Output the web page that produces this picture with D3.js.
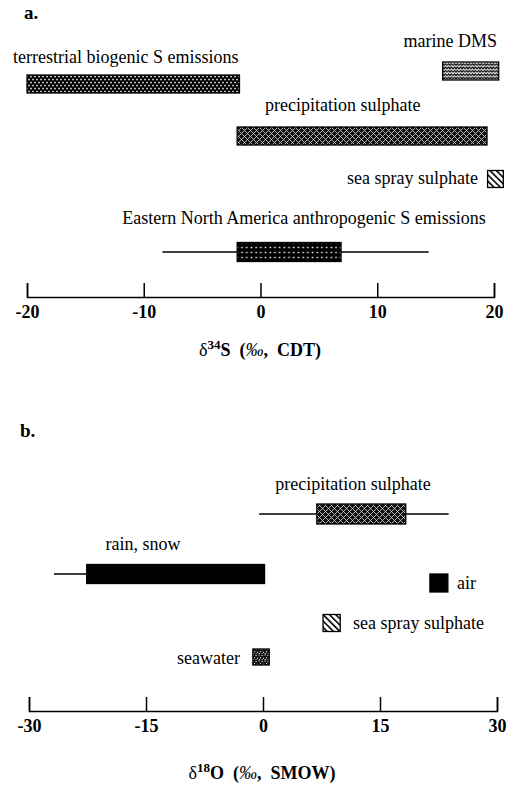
<!DOCTYPE html>
<html>
<head>
<meta charset="utf-8">
<script src="https://cdn.jsdelivr.net/npm/d3@7"></script>
<style>
  html, body { margin: 0; padding: 0; background: #fff; }
  svg { display: block; }
  text { font-family: "Liberation Serif", "Times New Roman", serif; fill: #000; }
</style>
</head>
<body>
<div id="chart"></div>
<script>
// ---- Panel a: sulphur isotope ranges (δ34S, ‰ CDT) ----
const sulphurSources = [
  "terrestrial biogenic S emissions",
  "marine DMS",
  "precipitation sulphate",
  "sea spray sulphate",
  "Eastern North America anthropogenic S emissions"
];
const sulphurLow = [-20, 15.6, -2, 19.45, -2];
const sulphurHigh = [-1.8, 20.4, 19.4, 20.8, 6.9];
const sulphurWhiskerLow = [null, null, null, null, -8.4];
const sulphurWhiskerHigh = [null, null, null, null, 14.4];
const sulphurTicks = [-20, -10, 0, 10, 20];

// ---- Panel b: oxygen isotope ranges (δ18O, ‰ SMOW) ----
const oxygenSources = [
  "precipitation sulphate",
  "rain, snow",
  "air",
  "sea spray sulphate",
  "seawater"
];
const oxygenLow = [6.9, -22.6, 21.4, 7.7, -1.3];
const oxygenHigh = [18.3, 0.2, 23.7, 9.9, 0.8];
const oxygenWhiskerLow = [-0.5, -26.8, null, null, null];
const oxygenWhiskerHigh = [23.8, null, null, null, null];
const oxygenTicks = [-30, -15, 0, 15, 30];

const W = 518, H = 789;
const svg = d3.select("#chart").append("svg").attr("width", W).attr("height", H);

// ---- fill patterns ----
const defs = svg.append("defs");

// staggered white dots on black
const pDots = defs.append("pattern").attr("id", "dots").attr("patternUnits", "userSpaceOnUse")
  .attr("width", 8).attr("height", 6);
pDots.append("rect").attr("width", 8).attr("height", 6).attr("fill", "#000");
[[1, 1.5], [5, 1.5], [3, 4.5], [7, 4.5]].forEach(([cx, cy]) =>
  pDots.append("rect").attr("x", cx - 0.7).attr("y", cy - 0.7).attr("width", 1.5).attr("height", 1.5).attr("fill", "#fff"));

// aligned white dots on black
const pGrid = defs.append("pattern").attr("id", "grid").attr("patternUnits", "userSpaceOnUse")
  .attr("width", 4.7).attr("height", 5);
pGrid.append("rect").attr("width", 4.7).attr("height", 5).attr("fill", "#000");
pGrid.append("rect").attr("x", 1.6).attr("y", 1.8).attr("width", 1.5).attr("height", 1.4).attr("fill", "#fff");

// fine speckle on black
const pSpeckle = defs.append("pattern").attr("id", "speckle").attr("patternUnits", "userSpaceOnUse")
  .attr("width", 6).attr("height", 6);
pSpeckle.append("rect").attr("width", 6).attr("height", 6).attr("fill", "#111");
[[0.5, 0.5], [3.5, 1], [2, 3.2], [5, 3.8], [0.8, 5], [3.6, 5.3]].forEach(([x, y]) =>
  pSpeckle.append("rect").attr("x", x).attr("y", y).attr("width", 1.1).attr("height", 1).attr("fill", "#fff"));

// white zigzag on black
const pZig = defs.append("pattern").attr("id", "zigzag").attr("patternUnits", "userSpaceOnUse")
  .attr("width", 6).attr("height", 3.4);
pZig.append("rect").attr("width", 6).attr("height", 3.4).attr("fill", "#1a1a1a");
pZig.append("path").attr("d", "M0,2.4 L1.5,0.9 L3,2.4 L4.5,0.9 L6,2.4")
  .attr("fill", "none").attr("stroke", "#eee").attr("stroke-width", 1.1);

// white woven hatch on black
const pWeave = defs.append("pattern").attr("id", "weave").attr("patternUnits", "userSpaceOnUse")
  .attr("width", 6).attr("height", 6);
pWeave.append("rect").attr("width", 6).attr("height", 6).attr("fill", "#111");
pWeave.append("path").attr("d", "M0,3 L3,0 M3,6 L6,3 M0,0 L3,3 M3,3 L6,6")
  .attr("fill", "none").attr("stroke", "#ddd").attr("stroke-width", 0.8);

// black diagonal lines on white, running top-left to bottom-right
const pDiag = defs.append("pattern").attr("id", "diag").attr("patternUnits", "userSpaceOnUse")
  .attr("width", 4.5).attr("height", 4.5).attr("patternTransform", "rotate(-45)");
pDiag.append("rect").attr("width", 4.5).attr("height", 4.5).attr("fill", "#fff");
pDiag.append("rect").attr("x", 0).attr("y", 0).attr("width", 1.6).attr("height", 4.5).attr("fill", "#000");

// ---- drawing helpers ----
function drawRanges(g, x, rows) {
  rows.forEach(r => {
    if (r.wlo != null || r.whi != null) {
      const a = r.wlo != null ? r.wlo : r.lo;
      const b = r.whi != null ? r.whi : r.hi;
      g.append("line")
        .attr("x1", x(a)).attr("x2", x(b))
        .attr("y1", r.y).attr("y2", r.y)
        .attr("stroke", "#000").attr("stroke-width", 1.4);
    }
    g.append("rect")
      .attr("x", x(r.lo)).attr("width", x(r.hi) - x(r.lo))
      .attr("y", r.y - r.h / 2).attr("height", r.h)
      .attr("fill", r.fill).attr("stroke", "#000").attr("stroke-width", 1.3);
    g.append("text")
      .attr("x", r.lx).attr("y", r.ly)
      .attr("text-anchor", r.anchor)
      .attr("font-size", 18)
      .text(r.name);
  });
}

function drawAxis(g, x, ticks, y) {
  const axis = d3.axisBottom(x)
    .tickValues(ticks)
    .tickSizeInner(-14)
    .tickSizeOuter(-14)
    .tickPadding(8)
    .tickFormat(d => String(d));
  const ag = g.append("g").attr("transform", `translate(0,${y})`).call(axis);
  ag.select(".domain").attr("stroke", "#000").attr("stroke-width", 1.5).attr("fill", "none");
  ag.selectAll(".tick line").attr("stroke", "#000").attr("stroke-width", 1.5);
  ag.selectAll(".tick text")
    .attr("font-family", '"Liberation Serif", "Times New Roman", serif')
    .attr("font-size", 18).attr("font-weight", "bold").attr("fill", "#000")
    .attr("dy", "0.71em");
}

function drawTitle(g, cx, y, sup, letter, unit) {
  const t = g.append("text").attr("x", cx).attr("y", y).attr("text-anchor", "middle")
    .attr("font-size", 18).attr("font-weight", "bold");
  t.append("tspan").attr("font-weight", "normal").text("δ");
  t.append("tspan").attr("font-size", 13).attr("dy", -7).text(sup);
  t.append("tspan").attr("dy", 7).text(letter + "\u00a0\u00a0(");
  t.append("tspan").attr("font-style", "italic").attr("font-weight", "normal").text("‰");
  t.append("tspan").text(",\u00a0\u00a0" + unit + ")");
}

// ---- panel a ----
const xA = d3.scaleLinear().domain([-20, 20]).range([27, 494]);
const gA = svg.append("g");
gA.append("text").attr("x", 24).attr("y", 19).attr("font-size", 19).attr("font-weight", "bold").text("a.");

const rowA = [84, 71, 136, 179, 252];
const hA = [18, 18, 18, 17, 19];
const fillA = ["url(#dots)", "url(#zigzag)", "url(#weave)", "url(#diag)", "url(#grid)"];
const labelA = [
  { x: 13, y: 63, anchor: "start" },
  { x: 497, y: 47, anchor: "end" },
  { x: 265, y: 111, anchor: "start" },
  { x: 478, y: 184, anchor: "end" },
  { x: 304, y: 224, anchor: "middle" }
];
drawRanges(gA, xA, sulphurSources.map((name, i) => ({
  name, lo: sulphurLow[i], hi: sulphurHigh[i],
  wlo: sulphurWhiskerLow[i], whi: sulphurWhiskerHigh[i],
  y: rowA[i], h: hA[i], fill: fillA[i],
  lx: labelA[i].x, ly: labelA[i].y, anchor: labelA[i].anchor
})));
drawAxis(gA, xA, sulphurTicks, 297);
drawTitle(gA, 260, 356, "34", "S", "CDT");

// ---- panel b ----
const xB = d3.scaleLinear().domain([-30, 30]).range([29, 497]);
const gB = svg.append("g");
gB.append("text").attr("x", 20).attr("y", 437).attr("font-size", 19).attr("font-weight", "bold").text("b.");

const rowB = [514, 574, 583, 623, 657];
const hB = [20, 19, 18, 17, 16];
const fillB = ["url(#weave)", "#000", "#000", "url(#diag)", "url(#speckle)"];
const labelB = [
  { x: 353, y: 490, anchor: "middle" },
  { x: 143, y: 550, anchor: "middle" },
  { x: 457, y: 589, anchor: "start" },
  { x: 353, y: 629, anchor: "start" },
  { x: 240, y: 664, anchor: "end" }
];
drawRanges(gB, xB, oxygenSources.map((name, i) => ({
  name, lo: oxygenLow[i], hi: oxygenHigh[i],
  wlo: oxygenWhiskerLow[i], whi: oxygenWhiskerHigh[i],
  y: rowB[i], h: hB[i], fill: fillB[i],
  lx: labelB[i].x, ly: labelB[i].y, anchor: labelB[i].anchor
})));
drawAxis(gB, xB, oxygenTicks, 711);
drawTitle(gB, 262, 779, "18", "O", "SMOW");
</script>
</body>
</html>
